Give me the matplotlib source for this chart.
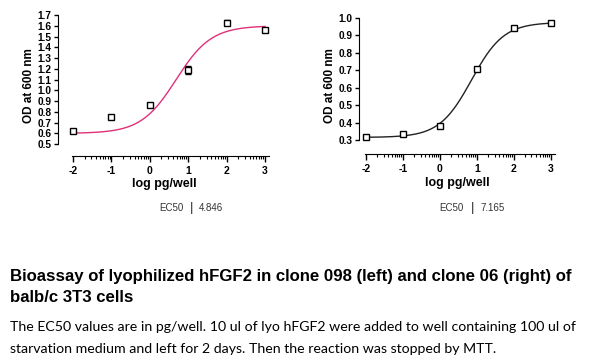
import numpy as np
import matplotlib
matplotlib.use("Agg")
import matplotlib.pyplot as plt

# data
dose = [-2, -1, 0, 1, 2, 3]
od_098 = [0.62, 0.75, 0.86, 1.19, 1.63, 1.56]
err_098 = [0.01, 0.005, 0.01, 0.035, 0.02, 0.02]
od_06 = [0.315, 0.335, 0.38, 0.71, 0.945, 0.97]
err_06 = [0.005, 0.005, 0.005, 0.01, 0.005, 0.005]

fit_098 = dict(bottom=0.60, top=1.60, ec50=4.846, hill=0.95)
fit_06 = dict(bottom=0.315, top=0.975, ec50=7.165, hill=1.0)

yticks_098 = [0.5, 0.6, 0.7, 0.8, 0.9, 1.0, 1.1, 1.2, 1.3, 1.4, 1.5, 1.6, 1.7]
yticks_06 = [0.3, 0.4, 0.5, 0.6, 0.7, 0.8, 0.9, 1.0]

plt.rcParams['font.family'] = ['Liberation Sans', 'DejaVu Sans']

W, H = 590, 363
fig = plt.figure(figsize=(W / 100, H / 100), dpi=100)


def curve(x, p):
    return p['bottom'] + (p['top'] - p['bottom']) / (1 + 10 ** ((np.log10(p['ec50']) - x) * p['hill']))


def panel(rect, xlim, ylim, ybounds, yticks, y, err, p, color, bar_x):
    ax = fig.add_axes(rect)
    xs = np.linspace(-2, 3, 300)
    ax.plot(xs, curve(xs, p), color=color, lw=1.0)
    ax.errorbar(dose, y, yerr=err, fmt='s', ms=4.5, mfc='white', mec='black',
                mew=1.0, ecolor='black', elinewidth=0.9, capsize=2.5, zorder=3)
    ax.set_xlim(*xlim)
    ax.set_ylim(*ylim)
    for s in ['top', 'right']:
        ax.spines[s].set_visible(False)
    ax.spines['left'].set_bounds(*ybounds)
    ax.spines['bottom'].set_bounds(-2.03, 3.1)
    ax.set_yticks(yticks)
    ax.set_yticklabels([f"{t:.1f}" for t in yticks], fontsize=7.3, fontweight='bold')
    ax.set_xticks(dose)
    ax.set_xticklabels([str(d) for d in dose], fontsize=7.5, fontweight='bold')
    minors = [d + np.log10(k) for d in dose[:-1] for k in range(2, 10)]
    ax.set_xticks(minors, minor=True)
    ax.tick_params(axis='x', which='major', length=4, width=1, pad=3)
    ax.tick_params(axis='x', which='minor', length=2, width=0.8)
    ax.tick_params(axis='y', length=3, width=1, pad=1.5)
    ax.set_xlabel("log pg/well", fontsize=9, fontweight='bold', labelpad=2)
    ax.set_ylabel("OD at 600 nm", fontsize=8.5, fontweight='bold', labelpad=2)
    yy = 1 - 208 / H
    fig.text((bar_x - 9) / W, yy, "EC50", fontsize=7, color='#333333', ha='right', va='center')
    fig.text(bar_x / W, yy, "|", fontsize=9.5, color='#333333', ha='center', va='center')
    fig.text((bar_x + 7) / W, yy, f"{p['ec50']}", fontsize=7, color='#333333', ha='left', va='center')
    return ax


panel([58 / W, 1 - 156 / H, 212 / W, 141 / H], (-2.39, 3.13), (0.39, 1.7),
      (0.5, 1.7), yticks_098, od_098, err_098, fit_098, '#e0307a', 192)
panel([359 / W, 1 - 154 / H, 197 / W, 136 / H], (-2.19, 3.14), (0.22, 1.0),
      (0.3, 1.0), yticks_06, od_06, err_06, fit_06, '#222222', 473)

fig.text(10 / W, 1 - 276 / H, "Bioassay of lyophilized hFGF2 in clone 098 (left) and clone 06 (right) of",
         fontsize=12.1, fontweight='bold', va='center')
fig.text(10 / W, 1 - 297 / H, "balb/c 3T3 cells", fontsize=12.1, fontweight='bold', va='center')
fig.text(10 / W, 1 - 327 / H, "The EC50 values are in pg/well. 10 ul of lyo hFGF2 were added to well containing 100 ul of",
         fontsize=10.2, family='Lato', va='center')
fig.text(10 / W, 1 - 349 / H, "starvation medium and left for 2 days. Then the reaction was stopped by MTT.",
         fontsize=10.2, family='Lato', va='center')

fig.savefig("out.png", dpi=100)
